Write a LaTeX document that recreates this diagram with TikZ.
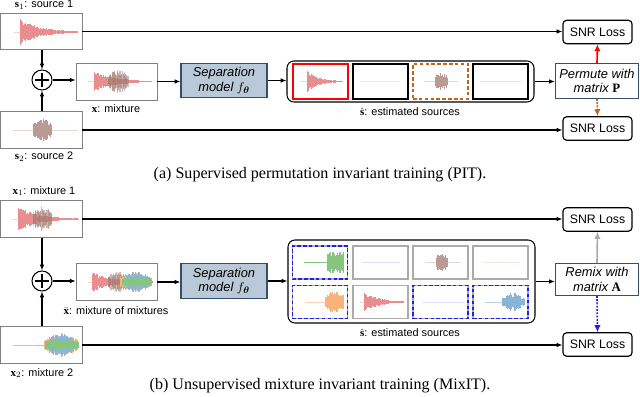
\documentclass[tikz,border=0pt]{standalone}
\usepackage{amsmath}
\usepackage{fontspec}
\setmainfont{Liberation Serif}
\setsansfont{Liberation Sans}
\usetikzlibrary{arrows.meta}

\definecolor{boxgray}{HTML}{808080}
\definecolor{lgray}{HTML}{ABABAB}
\definecolor{navyedge}{HTML}{34506B}
\definecolor{sepfill}{HTML}{B9C9D7}
\definecolor{wred}{HTML}{E88E8E}
\definecolor{wbrown}{HTML}{B99A94}
\definecolor{dbrown}{HTML}{A57C74}
\definecolor{worange}{HTML}{F9B27A}
\definecolor{wblue}{HTML}{89B4D8}
\definecolor{wgreen}{HTML}{86C57E}
\definecolor{pbrown}{HTML}{C0651A}
\definecolor{pblue}{HTML}{1E1EF5}

% waveform: x from, x to, y mid, amplitude, envelope in \wt, colour
\newcommand{\wave}[6]{%
  \pgfmathtruncatemacro{\wn}{(#2-#1)/0.55}
  \foreach \k in {0,...,\wn}{%
    \pgfmathsetmacro{\wx}{#1+0.55*\k}
    \pgfmathsetmacro{\wt}{\k/\wn}
    \pgfmathsetmacro{\wh}{#4*(#5)*(0.5+0.5*rnd)}
    \draw[#6,line width=0.45pt] (\wx,#3-\wh) -- (\wx,#3+\wh);
  }}
\newcommand{\base}[4]{\draw[#4,line width=0.4pt] (#1,#3) -- (#2,#3);}

\begin{document}
\begin{tikzpicture}[x=0.03cm,y=-0.03cm,
  lbl/.style={font=\sffamily\fontsize{9.3}{10}\selectfont,inner sep=0pt},
  captext/.style={font=\fontsize{13.7}{15}\selectfont,inner sep=0pt},
  imgbox/.style={draw=boxgray,line width=0.6pt,minimum width=2.46cm,minimum height=1.09cm,inner sep=0pt},
  addnode/.style={circle,draw,line width=0.9pt,minimum size=0.6cm,inner sep=0pt},
  sepbox/.style={draw=navyedge,fill=sepfill,line width=1pt,minimum width=2.58cm,minimum height=1.04cm,
    align=center,inner sep=0pt,font=\sffamily\itshape\fontsize{11}{12.5}\selectfont},
  matbox/.style={draw=navyedge,fill=white,line width=1pt,minimum width=2.49cm,minimum height=1.04cm,
    align=center,inner sep=0pt,font=\sffamily\itshape\fontsize{11}{12.5}\selectfont},
  lossbox/.style={draw,rounded corners=3pt,line width=1pt,minimum width=2.07cm,minimum height=0.7cm,
    inner sep=0pt,font=\sffamily\fontsize{10.5}{12}\selectfont},
  estbox/.style={draw,rounded corners=6pt,line width=0.9pt,minimum width=7.41cm,inner sep=0pt},
  srcbox/.style={draw,line width=1pt,minimum width=1.65cm,minimum height=1.05cm,inner sep=0pt},
  rowbox/.style={draw=lgray,line width=1.1pt,minimum width=1.65cm,minimum height=0.99cm,inner sep=0pt},
  bluedash/.style={draw=pblue,line width=1.3pt,dash pattern=on 3pt off 2pt},
  arr/.style={-{Latex[length=5pt,width=4pt]},line width=0.9pt},
  bigarr/.style={-{Latex[length=6pt,width=5.5pt]},line width=1.4pt}]
\useasboundingbox (0,0) rectangle (640,397);
\pgfmathsetseed{11}

% (a) supervised
\node[lbl] (s1lbl) at (44,5) {$\mathbf{s}_1$: source 1};
\node[imgbox] (s1) at (41,31.5) {};
\base{14}{78}{32}{wred!40}
\wave{20}{78}{32}{14}{exp(-2.8*\wt)}{wred}
\node[imgbox] (s2) at (41,130) {};
\base{13}{78}{130}{wbrown!40}
\wave{33}{52}{130}{11}{0.6+0.4*sin(180*\wt)}{wbrown}
\node[lbl] (s2lbl) at (44,157) {$\mathbf{s}_2$: source 2};

\node[addnode] (adda) at (42,80) {};
\draw[line width=1pt] ([xshift=-0.21cm]adda.center) -- ([xshift=0.21cm]adda.center)
  ([yshift=-0.21cm]adda.center) -- ([yshift=0.21cm]adda.center);

\node[imgbox,minimum width=2.43cm,minimum height=1.11cm] (mixa) at (116.5,81.5) {};
\base{88}{152}{81.5}{wred!40}
\wave{94}{152}{81.5}{11}{exp(-2.8*\wt)}{wred}
\wave{108}{128}{81.5}{12}{0.6+0.4*sin(180*\wt)}{dbrown,opacity=0.55}
\node[lbl] (mixalbl) at (116,109) {$\mathbf{x}$: mixture};

\node[sepbox] (sepa) at (224,80.5) {Separation\\model $f_{\boldsymbol{\theta}}$};

\node[estbox,minimum height=1.23cm] (esta) at (410.5,81.5) {};
\node[srcbox,draw=red] (a1) at (320.5,81.5) {};
\node[srcbox] (a2) at (380.5,81.5) {};
\node[srcbox,draw=pbrown,line width=1.1pt,dash pattern=on 3pt off 2pt] (a3) at (440.5,81.5) {};
\node[srcbox] (a4) at (500.5,81.5) {};
\base{300}{342}{81.5}{wred!40}
\wave{307}{343}{81.5}{11}{exp(-2.8*\wt)}{wred}
\base{360}{401}{81.5}{wred!25}
\base{424}{458}{81.5}{wbrown!40}
\wave{435}{448}{81.5}{9}{0.6+0.4*sin(180*\wt)}{wbrown}
\base{480}{522}{81.5}{wred!30}
\node[lbl] (estalbl) at (410,112) {$\hat{\mathbf{s}}$: estimated sources};

\node[matbox] (perm) at (597,81) {Permute with\\matrix $\mathbf{P}$};
\node[lossbox] (loss1) at (597.5,32) {SNR Loss};
\node[lossbox] (loss2) at (597.5,128.5) {SNR Loss};

\draw[arr] (s1.south -| adda) -- (adda.north);
\draw[arr] (s2.north -| adda) -- (adda.south);
\draw[arr] (adda.east) -- (adda.east -| mixa.west);
\draw[arr] (mixa.east) -- (mixa.east -| sepa.west);
\draw[arr] (sepa.east) -- (sepa.east -| esta.west);
\draw[arr] (esta.east) -- (esta.east -| perm.west);
\draw[arr] (s1.east) -- (s1.east -| loss1.west);
\draw[arr] (s2.east) -- (s2.east -| loss2.west);
\draw[bigarr,red] (perm.north) -- (loss1.south);
\draw[bigarr,pbrown,dash pattern=on 1.6pt off 1.2pt] (perm.south) -- (loss2.north);

\node[captext] (capa) at (320,175) {(a) Supervised permutation invariant training (PIT).};

% (b) unsupervised
\node[lbl] (x1lbl) at (44,191) {$\mathbf{x}_1$: mixture 1};
\node[imgbox] (x1) at (41,219) {};
\base{13}{78}{219}{wred!40}
\wave{18}{78}{219}{12}{exp(-2.8*\wt)}{wred}
\wave{33}{52}{219}{12}{0.6+0.4*sin(180*\wt)}{dbrown,opacity=0.55}
\node[imgbox] (x2) at (41,345) {};
\base{13}{45}{345}{lgray!70}
\wave{44}{78}{345}{11}{0.5+0.5*sin(180*\wt)}{worange}
\wave{46}{76}{345}{12}{0.4+0.6*sin(180*\wt)}{wblue,opacity=0.9}
\wave{45}{78}{345}{6}{0.7+0.3*sin(180*\wt)}{wgreen}
\node[lbl] (x2lbl) at (42,373) {$\mathbf{x}_2$: mixture 2};

\node[addnode] (addb) at (42,281) {};
\draw[line width=1pt] ([xshift=-0.21cm]addb.center) -- ([xshift=0.21cm]addb.center)
  ([yshift=-0.21cm]addb.center) -- ([yshift=0.21cm]addb.center);

\node[imgbox,minimum width=2.43cm] (mixb) at (116.5,282) {};
\base{88}{152}{282}{wred!40}
\wave{92}{152}{282}{10}{exp(-2.8*\wt)}{wred}
\wave{108}{128}{282}{11}{0.6+0.4*sin(180*\wt)}{dbrown,opacity=0.55}
\wave{120}{151}{282}{10}{0.5+0.5*sin(180*\wt)}{worange}
\wave{123}{150}{282}{11}{0.4+0.6*sin(180*\wt)}{wblue,opacity=0.9}
\wave{122}{152}{282}{5}{0.7+0.3*sin(180*\wt)}{wgreen}
\node[lbl] (mixblbl) at (116,311) {$\bar{\mathbf{x}}$: mixture of mixtures};

\node[sepbox] (sepb) at (224,281) {Separation\\model $f_{\boldsymbol{\theta}}$};

\node[estbox,minimum height=2.49cm] (estb) at (411.5,281.5) {};
\node[rowbox] (b1) at (320,262.5) {};
\node[rowbox] (b2) at (380.5,262.5) {};
\node[rowbox] (b3) at (440.5,262.5) {};
\node[rowbox] (b4) at (500.5,262.5) {};
\node[rowbox] (b5) at (320,302) {};
\node[rowbox] (b6) at (380.5,302) {};
\node[rowbox] (b7) at (440.5,302) {};
\node[rowbox] (b8) at (500.5,302) {};
\node[rowbox,bluedash] (b1d) at (320,262.5) {};
\node[rowbox,bluedash] (b5d) at (320,302) {};
\node[rowbox,bluedash] (b7d) at (440.5,302) {};
\node[rowbox,bluedash] (b8d) at (500.5,302) {};
\base{304}{328}{262.5}{wgreen}
\wave{327}{344}{262.5}{11}{1}{wgreen}
\base{362}{400}{262.5}{pblue!15}
\base{425}{460}{262.5}{wbrown!40}
\wave{436}{447}{262.5}{10}{0.6+0.4*sin(180*\wt)}{wbrown}
\base{482}{520}{262.5}{wred!25}
\base{305}{343}{302}{worange!60}
\wave{325}{344}{302}{11}{0.6+0.4*sin(180*\wt)}{worange}
\base{360}{402}{302}{wred!40}
\wave{364}{404}{302}{11}{exp(-2.8*\wt)}{wred}
\base{422}{465}{302}{pblue!15}
\base{485}{510}{302}{wblue!60}
\wave{502}{525}{302}{9}{0.4+0.6*sin(180*\wt)}{wblue}
\node[lbl] (estblbl) at (410,333) {$\hat{\mathbf{s}}$: estimated sources};

\node[matbox,minimum height=0.95cm] (remix) at (597,279.5) {Remix with\\matrix $\mathbf{A}$};
\node[lossbox] (loss3) at (597.5,219.5) {SNR Loss};
\node[lossbox] (loss4) at (597.5,344.5) {SNR Loss};

\draw[arr] (x1.south -| addb) -- (addb.north);
\draw[arr] (x2.north -| addb) -- (addb.south);
\draw[arr] (addb.east) -- (addb.east -| mixb.west);
\draw[arr] (mixb.east) -- (mixb.east -| sepb.west);
\draw[arr] (sepb.east) -- (sepb.east -| estb.west);
\draw[arr] (estb.east) -- (estb.east -| remix.west);
\draw[arr] (x1.east) -- (x1.east -| loss3.west);
\draw[arr] (x2.east) -- (x2.east -| loss4.west);
\draw[bigarr,lgray] (remix.north) -- (loss3.south);
\draw[bigarr,pblue,dash pattern=on 1.6pt off 1.2pt] (remix.south) -- (loss4.north);

\node[captext] (capb) at (320,386) {(b) Unsupervised mixture invariant training (MixIT).};
\end{tikzpicture}
\end{document}
